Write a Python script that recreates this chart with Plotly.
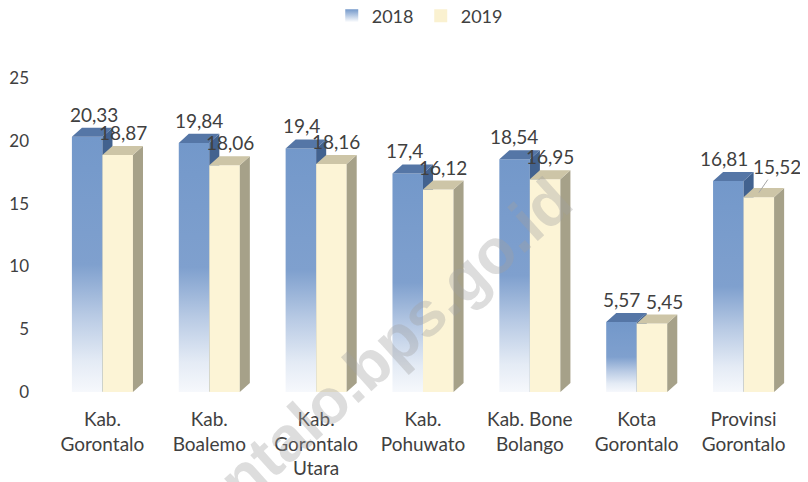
import plotly.graph_objects as go

# ---- data ----
categories = ["Kab.<br>Gorontalo", "Kab.<br>Boalemo", "Kab.<br>Gorontalo<br>Utara",
              "Kab.<br>Pohuwato", "Kab. Bone<br>Bolango", "Kota<br>Gorontalo",
              "Provinsi<br>Gorontalo"]
v2018 = [20.33, 19.84, 19.4, 17.4, 18.54, 5.57, 16.81]
v2019 = [18.87, 18.06, 18.16, 16.12, 16.95, 5.45, 15.52]
series_names = ["2018", "2019"]
y_ticks = [0, 5, 10, 15, 20, 25]

# ---- style ----
FONT = "Lato, 'Open Sans', sans-serif"
TXT = "#404040"
BW = 0.2856      # bar width (x units)
DX = 0.094       # 3D depth offset in x units
DY = 0.72        # 3D depth offset in y units
BLUE_SCALE = [[0, "#f6f8fc"], [0.12, "#e4ebf5"], [0.3, "#b8cae4"],
              [0.5, "#7fa0ce"], [1, "#7398ca"]]
BLUE_TOP, BLUE_SIDE = "#5576a6", "#42628f"
CREAM_FRONT, CREAM_TOP, CREAM_SIDE = "#fcf4d6", "#cdc5a7", "#a6a189"
# small horizontal nudges (px) for labels, as placed in the original
LABEL_XSHIFT_2018 = {0: 2, 1: 0, 2: -4, 3: -8, 4: -6, 5: -5, 6: -9}
LABEL_XSHIFT_2019 = {5: 7}


def fmt(v):
    return str(v).replace(".", ",")


def side_poly(x1, v):
    return [x1, x1 + DX, x1 + DX, x1, x1, None], [0, DY, v + DY, v, 0, None]


def top_poly(x0, x1, v):
    return ([x0, x1, x1 + DX, x0 + DX, x0, None],
            [v, v, v + DY, v + DY, v, None])


fig = go.Figure()

# blue fronts (gradient per bar)
for i, v in enumerate(v2018):
    x0, x1 = i - BW, i
    fig.add_trace(go.Scatter(
        x=[x0, x1, x1, x0, x0], y=[0, 0, v, v, 0], mode="none", fill="toself",
        fillgradient=dict(type="vertical", colorscale=BLUE_SCALE, start=0, stop=v),
        hoverinfo="skip", showlegend=False))

# blue sides and tops
sx, sy, tx, ty = [], [], [], []
for i, v in enumerate(v2018):
    a, b = side_poly(i, v); sx += a; sy += b
    a, b = top_poly(i - BW, i, v); tx += a; ty += b
fig.add_trace(go.Scatter(x=sx, y=sy, mode="none", fill="toself", fillcolor=BLUE_SIDE,
                         hoverinfo="skip", showlegend=False))
fig.add_trace(go.Scatter(x=tx, y=ty, mode="none", fill="toself", fillcolor=BLUE_TOP,
                         hoverinfo="skip", showlegend=False))

# cream fronts, sides, tops
fx, fy, sx, sy, tx, ty = [], [], [], [], [], []
for i, v in enumerate(v2019):
    x0, x1 = i, i + BW
    fx += [x0, x1, x1, x0, x0, None]; fy += [0, 0, v, v, 0, None]
    a, b = side_poly(x1, v); sx += a; sy += b
    a, b = top_poly(x0, x1, v); tx += a; ty += b
fig.add_trace(go.Scatter(x=fx, y=fy, mode="none", fill="toself", fillcolor=CREAM_FRONT,
                         hoverinfo="skip", showlegend=False))
fig.add_trace(go.Scatter(x=sx, y=sy, mode="none", fill="toself", fillcolor=CREAM_SIDE,
                         hoverinfo="skip", showlegend=False))
fig.add_trace(go.Scatter(x=tx, y=ty, mode="none", fill="toself", fillcolor=CREAM_TOP,
                         hoverinfo="skip", showlegend=False))

# legend entries
fig.add_trace(go.Scatter(x=[None], y=[None], mode="markers", name=series_names[0],
                         marker=dict(symbol="square", size=13, color="#7398ca",
                                     gradient=dict(type="vertical", color="#ffffff"))))
fig.add_trace(go.Scatter(x=[None], y=[None], mode="markers", name=series_names[1],
                         marker=dict(symbol="square", size=13, color="#faf1d0")))

# value labels
lab_font = dict(family=FONT, size=19, color=TXT)
ann = []
for i, v in enumerate(v2018):
    ann.append(dict(x=i - BW / 2 + DX / 2, y=v + DY, xref="x", yref="y", text=fmt(v),
                    showarrow=False, yanchor="bottom", xshift=LABEL_XSHIFT_2018.get(i, 0),
                    font=lab_font))
for i, v in enumerate(v2019):
    if i == len(v2019) - 1:
        ann.append(dict(x=i + BW / 2, y=v + DY / 2, xref="x", yref="y", text=fmt(v),
                        showarrow=True, arrowhead=0, arrowwidth=1, arrowcolor="#a6a6a6",
                        ax=18, ay=-26, font=lab_font))
    else:
        ann.append(dict(x=i + BW / 2 + DX / 2, y=v + DY, xref="x", yref="y", text=fmt(v),
                        showarrow=False, yanchor="bottom", xshift=LABEL_XSHIFT_2019.get(i, 0),
                        font=lab_font))

# watermark
ann.append(dict(x=0.393, y=0.015, xref="paper", yref="paper", text="<b>gorontalo.bps.go.id</b>",
                showarrow=False, textangle=-42, xanchor="center", yanchor="middle",
                font=dict(family="Liberation Sans, Arial, sans-serif", size=63,
                          color="rgba(160,160,160,0.36)")))

# the page body adds an 8px offset, so the figure is sized to fit the 808x482 window
fig.update_layout(
    width=800, height=474,
    margin=dict(l=41, r=11, t=45, b=90, autoexpand=False),
    paper_bgcolor="white", plot_bgcolor="white",
    font=dict(family=FONT, size=19, color=TXT),
    showlegend=True,
    legend=dict(orientation="h", x=0.378, xanchor="left", y=1.109, yanchor="middle",
                entrywidth=44, entrywidthmode="pixels",
                font=dict(family=FONT, size=18, color=TXT), bgcolor="rgba(0,0,0,0)"),
    xaxis=dict(range=[-0.5, 6.5], tickvals=list(range(len(categories))), ticktext=categories,
               showgrid=False, zeroline=False, showline=False, ticks="", automargin=False,
               ticklabelstandoff=14, fixedrange=True),
    yaxis=dict(range=[0, 27], tickvals=y_ticks, ticktext=[str(t) for t in y_ticks],
               tickfont=dict(family=FONT, size=17, color=TXT),
               showgrid=False, zeroline=False, showline=False, ticks="", automargin=False,
               ticklabelstandoff=19, fixedrange=True),
    annotations=ann,
)

fig.write_html("out.html")
